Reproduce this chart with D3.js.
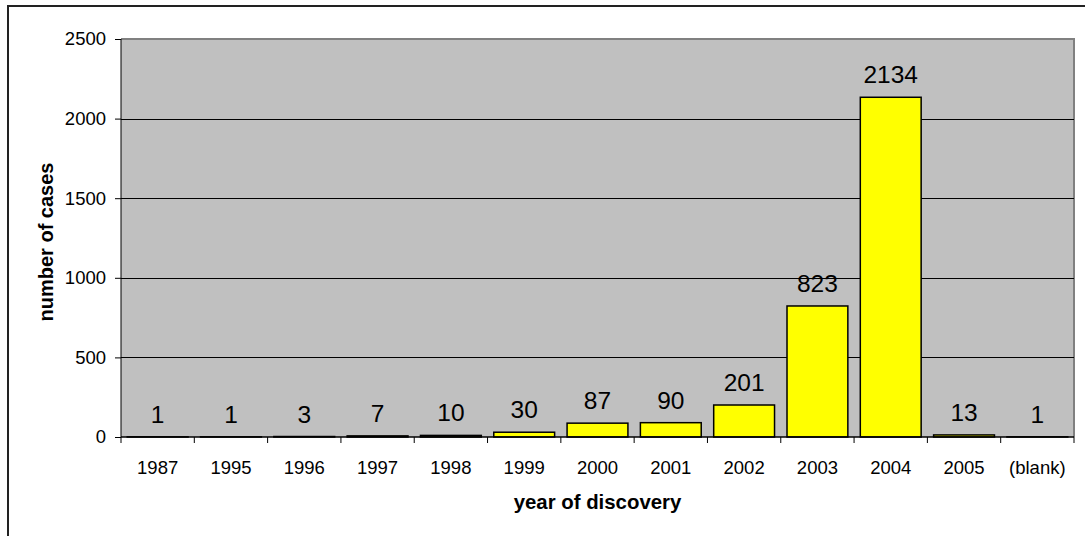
<!DOCTYPE html>
<html>
<head>
<meta charset="utf-8">
<script src="https://cdn.jsdelivr.net/npm/d3@7"></script>
<style>
  body { margin: 0; background: #fff; }
  svg { display: block; font-family: "Liberation Sans", Arial, sans-serif; }
</style>
</head>
<body>
<script>
let years = ["1987", "1995", "1996", "1997", "1998", "1999", "2000", "2001", "2002", "2003", "2004", "2005", "(blank)"]
let cases = [1, 1, 3, 7, 10, 30, 87, 90, 201, 823, 2134, 13, 1]
let yTicks = [0, 500, 1000, 1500, 2000, 2500]

let width = 1085, height = 536
let plotLeft = 121, plotRight = 1074, plotTop = 39, plotBottom = 437

var svg = d3.select("body").append("svg")
    .attr("width", width)
    .attr("height", height)

// outer chart frame
svg.append("rect")
    .attr("x", 8).attr("y", 6)
    .attr("width", width).attr("height", height)
    .attr("fill", "none")
    .attr("stroke", "#222")
    .attr("stroke-width", 2)

var x = d3.scaleBand().domain(years).range([plotLeft, plotRight]).paddingInner(0.17).paddingOuter(0.085)
var xb = d3.scaleBand().domain(years).range([plotLeft, plotRight])
var y = d3.scaleLinear().domain([0, 2500]).range([plotBottom, plotTop])

// plot area
svg.append("rect")
    .attr("x", plotLeft).attr("y", plotTop)
    .attr("width", plotRight - plotLeft).attr("height", plotBottom - plotTop)
    .attr("fill", "#c0c0c0")
svg.append("path")
    .attr("d", "M" + plotLeft + "," + plotTop + "H" + plotRight + "V" + plotBottom)
    .attr("fill", "none")
    .attr("stroke", "#808080")
    .attr("stroke-width", 2)

// gridlines
svg.selectAll(".grid")
    .data(yTicks.filter(d => d > 0 && d < 2500))
    .enter().append("line")
    .attr("x1", plotLeft).attr("x2", plotRight)
    .attr("y1", d => Math.round(y(d)) + 0.5)
    .attr("y2", d => Math.round(y(d)) + 0.5)
    .attr("stroke", "#000")

// bars
svg.selectAll(".bar")
    .data(cases)
    .enter().append("rect")
    .attr("x", (d, i) => x(years[i]))
    .attr("y", d => y(d))
    .attr("width", x.bandwidth())
    .attr("height", d => plotBottom - y(d))
    .attr("fill", "#ffff00")
    .attr("stroke", "#000")
    .attr("stroke-width", 1.5)

// data labels
svg.selectAll(".lbl")
    .data(cases)
    .enter().append("text")
    .attr("x", (d, i) => xb(years[i]) + xb.bandwidth() / 2)
    .attr("y", d => y(d) - 14)
    .attr("text-anchor", "middle")
    .attr("font-size", 24.5)
    .attr("fill", "#000")
    .text(d => d)

// y axis
var yAxis = svg.append("g")
    .attr("transform", "translate(" + plotLeft + ",0)")
    .call(d3.axisLeft(y).tickValues(yTicks).tickFormat(d3.format("d")).tickSize(6).tickPadding(9))
yAxis.attr("font-family", null)
yAxis.selectAll("text").attr("font-size", 18.5).attr("fill", "#000")
yAxis.selectAll("line, path").attr("stroke", "#000")
yAxis.select(".domain").attr("d", "M0," + plotTop + "V" + plotBottom)

// x axis with ticks on category boundaries
var xAxis = svg.append("g")
    .attr("transform", "translate(0," + plotBottom + ")")
xAxis.append("line")
    .attr("x1", plotLeft).attr("x2", plotRight)
    .attr("stroke", "#000").attr("stroke-width", 1.5)
xAxis.selectAll(".tk")
    .data(years.concat(["end"]))
    .enter().append("line")
    .attr("x1", (d, i) => plotLeft + i * xb.step())
    .attr("x2", (d, i) => plotLeft + i * xb.step())
    .attr("y1", 0).attr("y2", 6)
    .attr("stroke", "#000")
xAxis.selectAll(".tl")
    .data(years)
    .enter().append("text")
    .attr("x", d => xb(d) + xb.bandwidth() / 2)
    .attr("y", 37)
    .attr("text-anchor", "middle")
    .attr("font-size", 18.5)
    .text(d => d)

// axis titles
svg.append("text")
    .attr("x", (plotLeft + plotRight) / 2)
    .attr("y", 509)
    .attr("text-anchor", "middle")
    .attr("font-size", 20.4)
    .attr("font-weight", "bold")
    .text("year of discovery")
svg.append("text")
    .attr("transform", "translate(53,242) rotate(-90)")
    .attr("text-anchor", "middle")
    .attr("font-size", 20)
    .attr("font-weight", "bold")
    .text("number of cases")
</script>
</body>
</html>
